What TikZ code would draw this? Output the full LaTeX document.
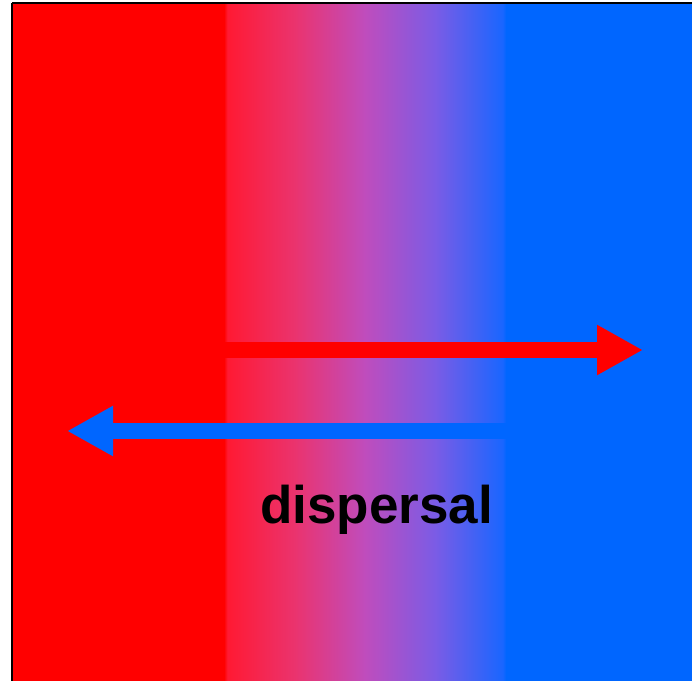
\documentclass[tikz,border=0pt]{standalone}
\usepackage{fontspec}
\newfontfamily\labelfont{Liberation Sans}
\usetikzlibrary{arrows.meta}

% red to blue blend across the contact zone
\pgfdeclarehorizontalshading{clinegrad}{100bp}{%
  rgb(0bp)=(1,0,0);
  rgb(25bp)=(1,0,0);
  rgb(25.6bp)=(1,0.1,0.2);
  rgb(37.5bp)=(0.92,0.2,0.43);
  rgb(50bp)=(0.75,0.3,0.74);
  rgb(62.5bp)=(0.48,0.36,0.9);
  rgb(74.4bp)=(0.1,0.4,1);
  rgb(75bp)=(0,0.4,1);
  rgb(100bp)=(0,0.4,1)}

\definecolor{habred}{RGB}{255,0,0}
\definecolor{habblue}{RGB}{0,102,255}

\begin{document}
\begin{tikzpicture}[
  x=1pt,
  y=-1pt,
  habitat/.style={draw=none},
  frame/.style={draw=black, line width=2.4pt},
  flow/.style={
    line width=16pt,
    -{Triangle[length=46pt, width=47pt]}
  },
  tag/.style={
    font=\labelfont\bfseries\fontsize{53}{60}\selectfont,
    anchor=base,
    inner sep=0pt
  }
]
\useasboundingbox (0,0) rectangle (692,680);

% ---------------------------------------------------------------------------
% Habitats and the blended zone between them
% ---------------------------------------------------------------------------
\path[habitat, fill=habred] (12,3) rectangle (224.5,682);
\path[habitat, shading=clinegrad] (224,3) rectangle (506,682);
\path[habitat, fill=habblue] (505.5,3) rectangle (694,682);
\draw[frame] (12,3) -- (12,684);
\draw[frame] (12,3) -- (696,3);

% ---------------------------------------------------------------------------
% Movement in both directions
% ---------------------------------------------------------------------------
\coordinate (redtail) at (224,350);
\coordinate (redtip) at (643,350);
\coordinate (bluetail) at (506,431);
\coordinate (bluetip) at (67,431);

\draw[flow, habred] (redtail) -- (redtip);
\draw[flow, habblue] (bluetail) -- (bluetip);

\node[tag] (disp) at (376.5,523) {dispersal};

\end{tikzpicture}
\end{document}
